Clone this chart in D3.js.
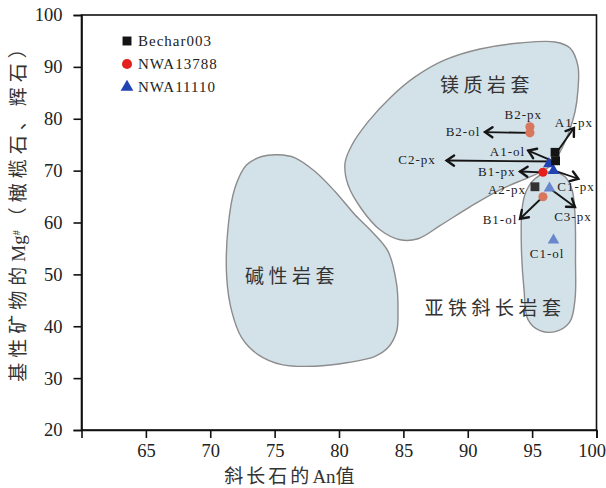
<!DOCTYPE html>
<html>
<head>
<meta charset="utf-8">
<script src="https://cdn.jsdelivr.net/npm/d3@7"></script>
<style>
  html, body { margin: 0; padding: 0; background: #fff; }
  svg { display: block; }
  text { font-family: "Liberation Serif", "Noto Sans CJK SC", serif; fill: #222; }
</style>
</head>
<body>
<svg id="chart" width="606" height="488"></svg>
<script>
// Axis ticks
const xTicks = [65, 70, 75, 80, 85, 90, 95, 100];
const yTicks = [20, 30, 40, 50, 60, 70, 80, 90, 100];

// Samples shown in the legend
const samples = ["Bechar003", "NWA13788", "NWA11110"];

// Mineral analyses: plagioclase An vs Mg# of olivine / pyroxene (grp 1 = dark, grp 2 = pale tone)
const bechar003 = [
  { an: 96.78, mg: 73.53, grp: 1 },
  { an: 96.82, mg: 71.89, grp: 1 },
  { an: 95.22, mg: 66.89, grp: 2 }
];
const nwa13788 = [
  { an: 95.84, mg: 69.68, grp: 1 },
  { an: 94.83, mg: 78.44, grp: 2 },
  { an: 94.83, mg: 77.28, grp: 2 },
  { an: 95.84, mg: 64.96, grp: 2 }
];
const nwa11110 = [
  { an: 96.30, mg: 71.30, grp: 1 },
  { an: 96.66, mg: 69.97, grp: 1 },
  { an: 96.35, mg: 66.60, grp: 2 },
  { an: 96.66, mg: 56.58, grp: 2 }
];

// Rock-suite fields, outlines in (An, Mg#)
const alkaliSuite = [
  [82.54, 58.28], [83.81, 54.43], [84.48, 48.02], [84.58, 42.88], [84.48, 39.03],
  [83.81, 35.89], [82.80, 34.21], [80.70, 33.00], [78.14, 32.29], [75.55, 32.61],
  [73.71, 34.54], [72.44, 37.81], [71.67, 42.88], [71.28, 49.36], [71.38, 58.99],
  [71.92, 66.69], [72.83, 71.12], [74.00, 72.72], [75.26, 73.05], [76.58, 72.47],
  [78.14, 69.83], [79.69, 65.98], [81.24, 61.49]
];
const magnesianSuite = [
  [96.78, 94.80], [97.94, 93.65], [98.56, 90.18], [98.56, 85.56], [98.33, 81.32],
  [97.86, 77.47], [97.17, 73.62], [96.23, 70.54], [94.83, 68.81], [92.50, 66.31],
  [90.17, 63.03], [87.84, 59.38], [86.14, 56.87], [84.74, 56.68], [83.18, 58.61],
  [81.79, 62.46], [80.70, 67.27], [80.47, 71.51], [81.01, 74.97], [82.25, 79.40],
  [83.96, 84.02], [85.90, 88.06], [88.23, 91.34], [90.95, 93.45], [94.06, 94.61]
];
const ferroanSuite = [
  [96.39, 69.77], [97.55, 68.81], [98.10, 66.31], [98.33, 61.49], [98.37, 52.83],
  [98.33, 45.13], [97.94, 40.89], [96.93, 39.06], [95.61, 39.16], [94.68, 41.28],
  [94.37, 47.05], [94.17, 54.76], [94.21, 62.46], [94.52, 65.92], [95.22, 68.43]
];
const suiteNames = ["碱性岩套", "镁质岩套", "亚铁斜长岩套"];
const suiteLabelAt = [[76.35, 49.56], [91.50, 86.52], [92.12, 43.40]];

// Grain annotations
const grainLabels = ["B2-px", "A1-px", "B2-ol", "A1-ol", "C2-px", "B1-px", "A2-px", "C1-px", "C3-px", "B1-ol", "C1-ol"];
const grainLabelAt = [
  [94.31, 80.75], [98.25, 79.26], [89.63, 77.53], [93.09, 73.68], [86.06, 72.08],
  [92.25, 69.83], [93.05, 66.31], [98.41, 66.83], [98.17, 61.17], [92.50, 60.53], [96.16, 53.99]
];
const arrowFrom = [
  [96.85, 73.30], [96.39, 72.08], [96.91, 71.76], [94.83, 77.28],
  [95.84, 69.68], [96.78, 69.97], [96.35, 66.60], [95.84, 64.96]
];
const arrowTo = [
  [98.25, 78.24], [94.70, 73.87], [88.36, 71.95], [91.34, 77.42],
  [94.06, 69.83], [98.59, 68.43], [98.33, 62.98], [94.06, 60.72]
];

const svg = d3.select("#chart");
const x = d3.scaleLinear().domain([60, 100]).range([81.5, 596.5]);
const y = d3.scaleLinear().domain([20, 100]).range([430, 15]);

// Writes mixed Chinese / Latin text: Chinese runs are spaced out, Latin runs stay tight
const cjk = /[\u3000-\u30ff\u4e00-\u9fff\uff00-\uffef]/;
function mixedText(sel, str, spacing) {
  const runs = [];
  for (const ch of str) {
    const isC = cjk.test(ch);
    if (runs.length && runs[runs.length - 1].c === isC) runs[runs.length - 1].s += ch;
    else runs.push({ c: isC, s: ch });
  }
  runs.forEach(r => {
    sel.append("tspan").style("letter-spacing", r.c ? spacing + "px" : "0px").text(r.s);
  });
  return sel;
}

// Fields
const outline = d3.line().x(d => x(d[0])).y(d => y(d[1])).curve(d3.curveCatmullRomClosed.alpha(0.5));
const fields = svg.append("g");
[alkaliSuite, ferroanSuite, magnesianSuite].forEach(poly => {
  fields.append("path")
    .attr("d", outline(poly))
    .attr("fill", "#d3e1e9")
    .attr("stroke", "#8c8c8c")
    .attr("stroke-width", 1.4);
});

// Field names
svg.append("g").selectAll("text").data(suiteNames).join("text")
  .attr("x", (d, i) => x(suiteLabelAt[i][0]))
  .attr("y", (d, i) => y(suiteLabelAt[i][1]))
  .attr("dy", "0.36em")
  .attr("text-anchor", "middle")
  .style("font-size", "19px")
  .style("letter-spacing", "4.5px")
  .style("fill", "#333")
  .text(d => d);

// Frame
const x0 = x.range()[0], x1 = x.range()[1], y0 = y.range()[0], y1 = y.range()[1];
svg.append("rect")
  .attr("x", x0).attr("y", y1)
  .attr("width", x1 - x0).attr("height", y0 - y1)
  .attr("fill", "none").attr("stroke", "#111").attr("stroke-width", 1.6);

// Axes
const xAxis = d3.axisBottom(x).tickValues(xTicks).tickSize(8).tickPadding(6).tickFormat(d3.format("d"));
const yAxis = d3.axisLeft(y).tickValues(yTicks).tickSize(8).tickPadding(11).tickFormat(d3.format("d"));
const gx = svg.append("g").attr("transform", `translate(0,${y0})`).call(xAxis);
const gy = svg.append("g").attr("transform", `translate(${x0},0)`).call(yAxis);
[gx, gy].forEach(g => {
  g.select(".domain").attr("stroke", "#111").attr("stroke-width", 1.6);
  g.selectAll(".tick line").attr("stroke", "#111").attr("stroke-width", 1.6);
  g.selectAll(".tick text")
    .style("font-family", "'Liberation Serif', serif")
    .style("font-size", "18.5px")
    .style("fill", "#222");
});
// keep the last x label inside the page edge
gx.selectAll(".tick text").filter(d => d === 100).attr("dx", -5);

// Axis titles
mixedText(svg.append("text")
  .attr("x", 291).attr("y", 483)
  .attr("text-anchor", "middle")
  .style("font-size", "19px")
  .style("fill", "#333"), "斜长石的An值", 3);

const yt = svg.append("text")
  .attr("transform", "translate(25,208) rotate(-90)")
  .attr("text-anchor", "middle")
  .style("font-size", "19px")
  .style("fill", "#333");
yt.append("tspan").style("letter-spacing", "5px").text("基性矿物的");
yt.append("tspan").style("letter-spacing", "0px").text("Mg");
yt.append("tspan").attr("baseline-shift", "super").style("font-size", "10px").style("letter-spacing", "4px").text("#");
yt.append("tspan").style("letter-spacing", "5px").text("（橄榄石、辉石）");

// Arrows with open heads
const arrowG = svg.append("g").attr("stroke", "#151515").attr("fill", "none").attr("stroke-linecap", "round");
arrowFrom.forEach((f, i) => {
  const t = arrowTo[i];
  const ax = x(f[0]), ay = y(f[1]), bx = x(t[0]), by = y(t[1]);
  arrowG.append("line")
    .attr("x1", ax).attr("y1", ay).attr("x2", bx).attr("y2", by)
    .attr("stroke-width", 1.8);
  const ang = Math.atan2(by - ay, bx - ax);
  const L = 9, spread = 0.6;
  const p1 = [bx - L * Math.cos(ang - spread), by - L * Math.sin(ang - spread)];
  const p2 = [bx - L * Math.cos(ang + spread), by - L * Math.sin(ang + spread)];
  arrowG.append("path")
    .attr("d", `M${p1[0]},${p1[1]}L${bx},${by}L${p2[0]},${p2[1]}`)
    .attr("stroke-width", 2.4)
    .attr("stroke-linejoin", "miter");
});

// Grain labels
svg.append("g").selectAll("text").data(grainLabels).join("text")
  .attr("x", (d, i) => x(grainLabelAt[i][0]))
  .attr("y", (d, i) => y(grainLabelAt[i][1]))
  .attr("dy", "0.34em")
  .attr("text-anchor", "middle")
  .style("font-size", "13px")
  .style("letter-spacing", "1px")
  .style("fill", "#222")
  .text(d => d);

// Data points
const sym = {
  Bechar003: d3.symbol().type(d3.symbolSquare).size(78),
  NWA13788: d3.symbol().type(d3.symbolCircle).size(66),
  NWA11110: d3.symbol().type(d3.symbolTriangle).size(58)
};
const tone = {
  Bechar003: ["#141414", "#333333"],
  NWA13788: ["#e3201c", "#d8765e"],
  NWA11110: ["#2143b3", "#6a86cc"]
};
const pts = svg.append("g");
[["NWA11110", nwa11110], ["NWA13788", nwa13788], ["Bechar003", bechar003]].forEach(([name, arr]) => {
  pts.selectAll(null).data(arr).join("path")
    .attr("transform", d => `translate(${x(d.an)},${y(d.mg)})`)
    .attr("d", sym[name]())
    .attr("fill", d => tone[name][d.grp - 1]);
});

// Legend
const leg = svg.append("g").attr("transform", "translate(127,41)");
samples.forEach((s, i) => {
  const row = leg.append("g").attr("transform", `translate(0,${i * 23})`);
  row.append("path")
    .attr("d", d3.symbol().type(s === "Bechar003" ? d3.symbolSquare : s === "NWA13788" ? d3.symbolCircle : d3.symbolTriangle)
      .size(s === "NWA11110" ? 70 : 80)())
    .attr("fill", tone[s][0]);
  row.append("text")
    .attr("x", 11).attr("dy", "0.35em")
    .style("font-size", "15px")
    .style("letter-spacing", "1px")
    .style("fill", "#222")
    .text(s);
});
</script>
</body>
</html>
